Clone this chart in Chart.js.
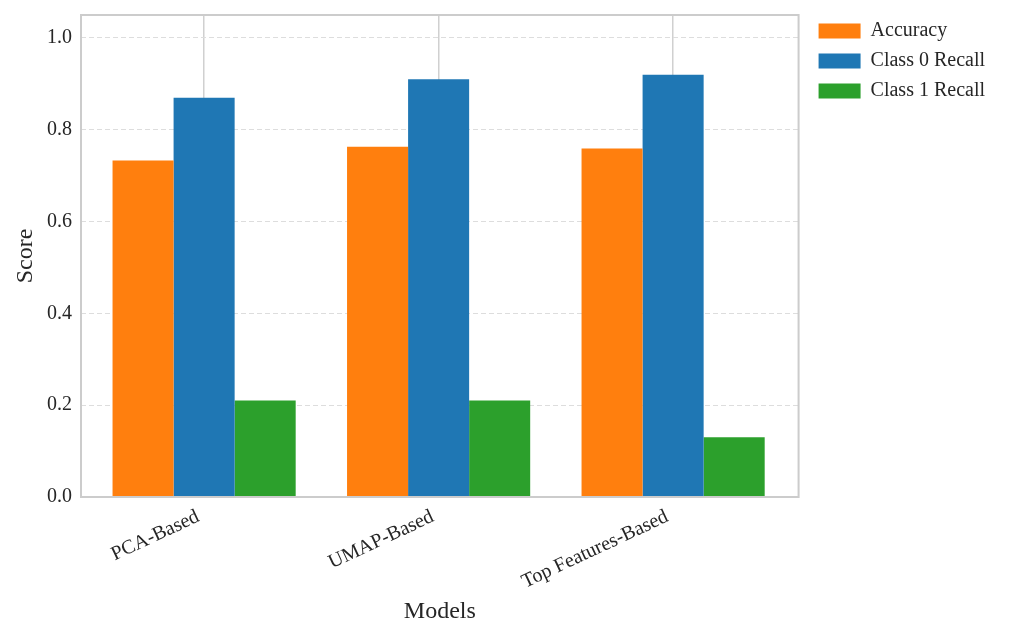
<!DOCTYPE html>
<html>
<head>
<meta charset="utf-8">
<script src="https://cdn.jsdelivr.net/npm/chart.js@4.4.1/dist/chart.umd.min.js"></script>
<style>
  html, body { margin: 0; padding: 0; background: #ffffff; }
  #wrap { width: 1020px; height: 640px; }
</style>
</head>
<body>
<div id="wrap"><canvas id="c" width="1020" height="640"></canvas></div>
<script>
const categories = ["PCA-Based", "UMAP-Based", "Top Features-Based"];
const seriesNames = ["Accuracy", "Class 0 Recall", "Class 1 Recall"];
const accuracy = [0.733, 0.763, 0.759];
const class0Recall = [0.87, 0.91, 0.92];
const class1Recall = [0.21, 0.21, 0.13];
const yTicks = [0.0, 0.2, 0.4, 0.6, 0.8, 1.0];
const colors = ["#ff7f0e", "#1f77b4", "#2ca02c"];

const FONT = "'Liberation Serif', 'Times New Roman', serif";
const TEXT = "#262626";

const toPoints = arr => arr.map((v, i) => ({ x: i, y: v }));

const frame = {
  id: 'frame',
  afterLayout(chart) {
    const lg = chart.legend;
    if (lg) { lg.left += 10; lg.right += 10; lg.top -= 4; lg.bottom -= 4; }
  },
  afterDatasetsDraw(chart) {
    const a = chart.chartArea, ctx = chart.ctx;
    ctx.save();
    ctx.strokeStyle = '#cccccc';
    ctx.lineWidth = 2;
    ctx.setLineDash([]);
    ctx.strokeRect(a.left, a.top, a.right - a.left, a.bottom - a.top);
    ctx.restore();
  }
};

new Chart(document.getElementById('c'), {
  type: 'bar',
  data: {
    datasets: [
      { label: seriesNames[0], data: toPoints(accuracy), backgroundColor: colors[0] },
      { label: seriesNames[1], data: toPoints(class0Recall), backgroundColor: colors[1] },
      { label: seriesNames[2], data: toPoints(class1Recall), backgroundColor: colors[2] }
    ]
  },
  options: {
    responsive: false,
    animation: false,
    devicePixelRatio: 1,
    categoryPercentage: 0.781,
    barPercentage: 1.0,
    layout: { padding: { top: 15, right: 35, bottom: 0, left: 0 } },
    plugins: {
      tooltip: { enabled: false },
      legend: {
        position: 'right',
        align: 'start',
        labels: {
          boxWidth: 42,
          boxHeight: 15,
          padding: 10,
          color: TEXT,
          font: { family: FONT, size: 20 }
        }
      }
    },
    scales: {
      x: {
        type: 'linear',
        min: -0.525,
        max: 2.535,
        offset: false,
        afterBuildTicks: s => { s.ticks = categories.map((_, i) => ({ value: i })); },
        afterFit: s => { s.height = 143; s.paddingLeft = 0; s.paddingRight = 0; },
        ticks: {
          autoSkip: false,
          minRotation: 25,
          maxRotation: 25,
          padding: 8,
          labelOffset: -6,
          color: TEXT,
          font: { family: FONT, size: 20 },
          callback: v => categories[v]
        },
        grid: { color: '#d0d0d0', lineWidth: 1.5, drawTicks: false, offset: false },
        border: { display: false },
        title: {
          display: true,
          text: 'Models',
          color: TEXT,
          font: { family: FONT, size: 24 },
          padding: { top: 0, bottom: 14 }
        }
      },
      y: {
        min: 0,
        max: 1.05,
        afterBuildTicks: s => { s.ticks = yTicks.map(v => ({ value: v })); },
        afterFit: s => { s.width = 81; s.paddingTop = 0; s.paddingBottom = 0; },
        ticks: {
          padding: 9,
          color: TEXT,
          font: { family: FONT, size: 20 },
          callback: v => Number(v).toFixed(1)
        },
        grid: { color: '#dddddd', lineWidth: 1, drawTicks: false },
        border: { display: false, dash: [5, 3] },
        title: {
          display: true,
          text: 'Score',
          color: TEXT,
          font: { family: FONT, size: 24 },
          padding: { top: 11, bottom: 0 }
        }
      }
    }
  },
  plugins: [frame]
});
</script>
</body>
</html>
